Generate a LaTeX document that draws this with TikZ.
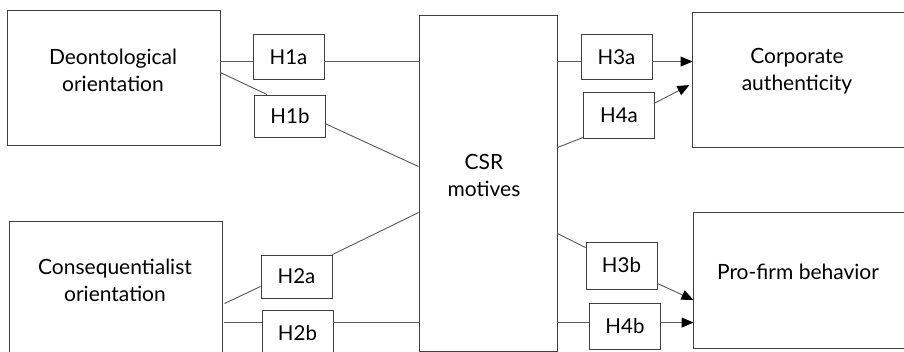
\documentclass[tikz,border=0pt]{standalone}
\usepackage{fontspec}
\setmainfont{Lato}
\usetikzlibrary{arrows.meta,calc}
\tikzset{
  bigbox/.style={draw=black!75, line width=0.9pt, minimum width=#1, inner sep=0pt},
  hbox/.style={draw=black!75, line width=0.9pt, minimum width=71pt, minimum height=45pt, inner sep=0pt, font=\fontsize{20.5}{22}\selectfont},
  lbl/.style={align=center, font=\fontsize{21}{27}\selectfont, inner sep=0pt},
  conn/.style={draw=black!65, line width=0.9pt},
  arr/.style={conn, -{Triangle[length=12pt,width=10pt,color=black]}, shorten >=-1pt}
}
\begin{document}
\begin{tikzpicture}[x=1pt,y=-1pt]
\useasboundingbox (0,0) rectangle (904,352);
\fill[white] (0,0) rectangle (904,352);
\clip (0,0) rectangle (904,352);
% big boxes
\node[bigbox=213pt, minimum height=135pt] (deon) at (113.5,77.5) {};
\node[bigbox=213pt, minimum height=140pt] (cons) at (115.5,291) {};
\node[bigbox=138pt, minimum height=336pt] (csr) at (488,183) {};
\node[bigbox=216pt, minimum height=135pt] (corp) at (800,79.5) {};
\node[bigbox=216pt, minimum height=136pt] (pro) at (801,280) {};
% labels
\node[lbl] (deonl) at (113,70) {Deontological\\orientation};
\node[lbl] (consl) at (115,280) {Consequentialist\\orientation};
\node[lbl] (csrl) at (484,175) {CSR\\motives};
\node[lbl] (corpl) at (797,71) {Corporate\\authenticity};
\node[lbl] (prol) at (798,272) {Pro-firm behavior};
% hypothesis boxes
\node[hbox] (h1a) at (288.5,57) {H1a};
\node[hbox, minimum height=42pt] (h1b) at (290,116) {H1b};
\node[hbox, minimum height=43pt] (h2a) at (296.5,276.5) {H2a};
\node[hbox, minimum height=46pt] (h2b) at (297.5,333) {H2b};
\node[hbox] (h3a) at (616.5,57) {H3a};
\node[hbox, minimum height=46pt] (h4a) at (619,115) {H4a};
\node[hbox, minimum height=47pt] (h3b) at (621.5,265.5) {H3b};
\node[hbox, minimum height=46pt] (h4b) at (625,326) {H4b};
% coordinates
\coordinate (d1) at ($(deon.north east)+(0,52)$);
\coordinate (d2) at ($(deon.north east)+(0,63)$);
\coordinate (c1) at ($(cons.north east)+(2,83)$);
\coordinate (c2) at ($(cons.north east)+(2,102)$);
\coordinate (s1) at ($(csr.north west)+(0,47)$);
\coordinate (s2) at ($(csr.north west)+(0,152)$);
\coordinate (s3) at ($(csr.north west)+(0,198)$);
\coordinate (s4) at ($(csr.north west)+(0,308)$);
\coordinate (r1) at ($(csr.north east)+(0,47)$);
\coordinate (r2) at ($(csr.north east)+(0,133)$);
\coordinate (r3) at ($(csr.north east)+(0,219)$);
\coordinate (r4) at ($(csr.north east)+(0,308)$);
\coordinate (t1) at ($(corp.north west)+(0,50)$);
\coordinate (t2) at ($(corp.north west)+(-3,74)$);
\coordinate (t3) at ($(pro.north west)+(0,88)$);
\coordinate (t4) at ($(pro.north west)+(0,111)$);
% connectors
\draw[conn] (d1) -- (h1a.west |- d1);
\draw[conn] (h1a.east |- s1) -- (s1);
\draw[conn] (d2) -- ($(h1b.north west)+(13,0)$);
\draw[conn] ($(h1b.east)+(0,8)$) -- (s2);
\draw[conn] (c1) -- ($(h2a.west)+(0,10)$);
\draw[conn] (h2a.north east) -- (s3);
\draw[conn] (c2) -- (h2b.west |- c2);
\draw[conn] (h2b.east |- c2) -- (s4);
\draw[conn] (r1) -- (h3a.west |- r1);
\draw[arr] (h3a.east |- r1) -- (t1);
\draw[conn] (r2) -- ($(h4a.south west)+(0,-1)$);
\draw[arr] ($(h4a.east)+(0,-12)$) -- (t2);
\draw[conn] (r3) -- ($(h3b.north west)+(0,6)$);
\draw[arr] ($(h3b.east)+(0,18)$) -- (t3);
\draw[conn] (r4) -- (h4b.west |- r4);
\draw[arr] (h4b.east |- r4) -- (t4);
\end{tikzpicture}
\end{document}
